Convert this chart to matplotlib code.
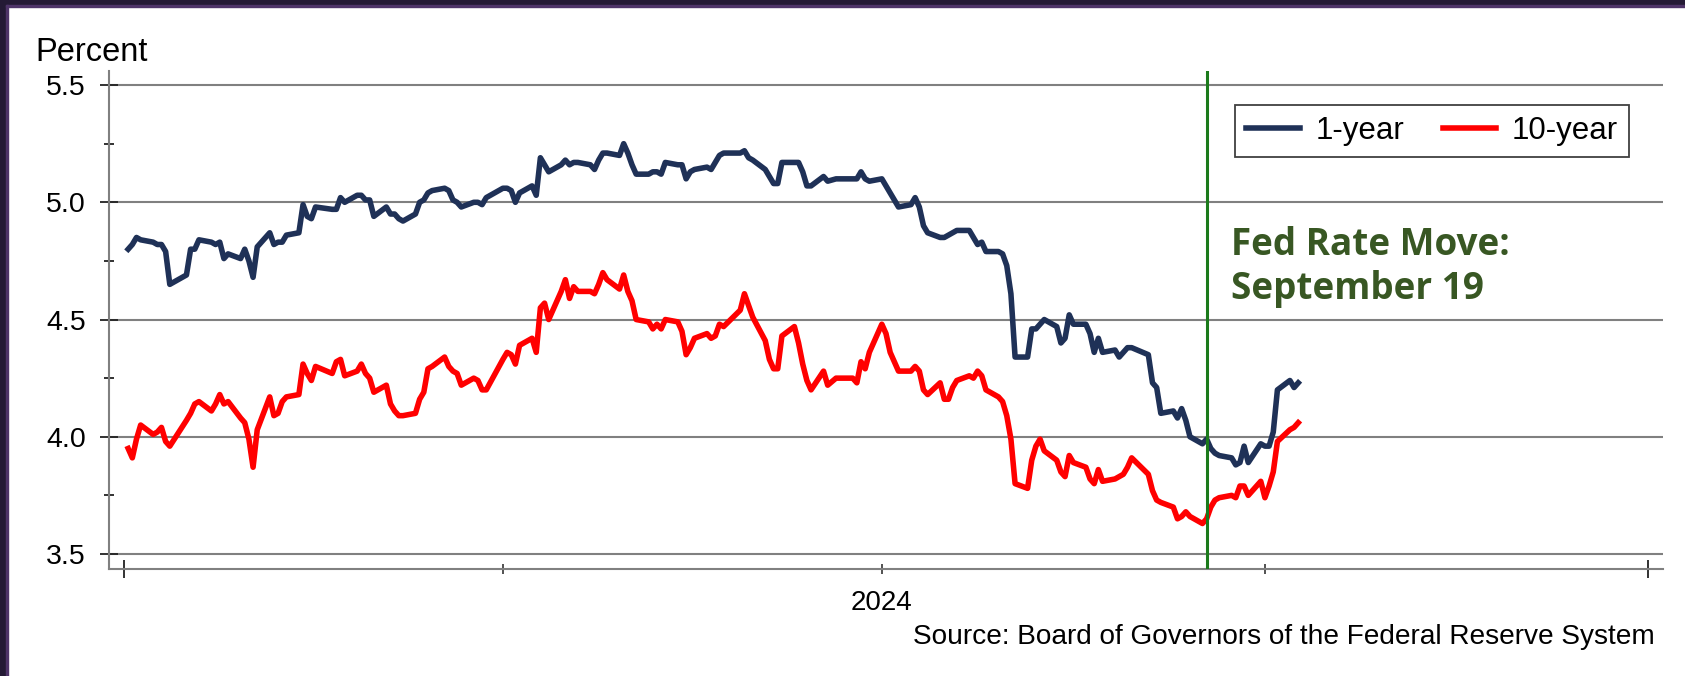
import pandas as pd
import matplotlib
matplotlib.use("Agg")
import matplotlib.pyplot as plt
from matplotlib.patches import Rectangle

plt.rcParams['font.family'] = ['Liberation Sans', 'DejaVu Sans']

# trading days, Jan 2 - Oct 9 2024
holidays = ["2024-01-15", "2024-02-19", "2024-03-29", "2024-05-27",
            "2024-06-19", "2024-07-04", "2024-09-02"]
dates = pd.bdate_range("2024-01-02", "2024-10-09", freq="C", holidays=holidays)

# 1-year treasury yield (percent), one line per month
one_year = [
    4.80, 4.82, 4.85, 4.84, 4.83, 4.82, 4.82, 4.79, 4.65, 4.69, 4.80, 4.80, 4.84, 4.83, 4.82, 4.83, 4.76, 4.78, 4.76, 4.80, 4.75,
    4.68, 4.81, 4.87, 4.82, 4.83, 4.83, 4.86, 4.87, 4.99, 4.94, 4.93, 4.98, 4.97, 4.97, 5.02, 5.00, 5.03, 5.03, 5.01, 5.01,
    4.94, 4.98, 4.95, 4.95, 4.93, 4.92, 4.95, 5.00, 5.01, 5.04, 5.05, 5.06, 5.05, 5.01, 5.00, 4.98, 5.00, 5.00, 4.99, 5.02,
    5.06, 5.06, 5.05, 5.00, 5.04, 5.07, 5.03, 5.19, 5.16, 5.13, 5.16, 5.18, 5.16, 5.17, 5.17, 5.16, 5.14, 5.18, 5.21, 5.21, 5.20, 5.25,
    5.21, 5.16, 5.12, 5.12, 5.13, 5.13, 5.12, 5.17, 5.16, 5.16, 5.10, 5.13, 5.14, 5.15, 5.14, 5.17, 5.20, 5.21, 5.21, 5.22, 5.19, 5.18,
    5.14, 5.11, 5.08, 5.08, 5.17, 5.17, 5.17, 5.13, 5.07, 5.07, 5.11, 5.09, 5.10, 5.10, 5.10, 5.10, 5.13, 5.10, 5.09,
    5.10, 5.07, 5.04, 4.98, 4.99, 5.02, 4.98, 4.90, 4.87, 4.85, 4.85, 4.86, 4.87, 4.88, 4.88, 4.85, 4.82, 4.83, 4.79, 4.79, 4.78, 4.73,
    4.61, 4.34, 4.34, 4.46, 4.46, 4.48, 4.50, 4.47, 4.40, 4.42, 4.52, 4.48, 4.48, 4.44, 4.36, 4.42, 4.36, 4.37, 4.34, 4.36, 4.38, 4.38,
    4.35, 4.23, 4.21, 4.10, 4.11, 4.08, 4.12, 4.07, 4.00, 3.97, 3.99, 3.95, 3.93, 3.92, 3.91, 3.88, 3.89, 3.96, 3.89, 3.97,
    3.96, 3.96, 4.02, 4.20, 4.24, 4.21, 4.23,
]

# 10-year treasury yield (percent)
ten_year = [
    3.95, 3.91, 3.99, 4.05, 4.01, 4.02, 4.04, 3.98, 3.96, 4.07, 4.10, 4.14, 4.15, 4.11, 4.14, 4.18, 4.14, 4.15, 4.08, 4.06, 3.99,
    3.87, 4.03, 4.17, 4.09, 4.10, 4.15, 4.17, 4.18, 4.31, 4.27, 4.24, 4.30, 4.27, 4.32, 4.33, 4.26, 4.28, 4.31, 4.27, 4.25,
    4.19, 4.22, 4.14, 4.11, 4.09, 4.09, 4.10, 4.16, 4.19, 4.29, 4.30, 4.34, 4.30, 4.28, 4.27, 4.22, 4.25, 4.24, 4.20, 4.20,
    4.33, 4.36, 4.35, 4.31, 4.39, 4.42, 4.36, 4.55, 4.57, 4.50, 4.62, 4.67, 4.59, 4.64, 4.62, 4.62, 4.61, 4.65, 4.70, 4.67, 4.63, 4.69,
    4.62, 4.58, 4.50, 4.49, 4.46, 4.48, 4.46, 4.50, 4.49, 4.45, 4.35, 4.38, 4.42, 4.44, 4.42, 4.43, 4.48, 4.47, 4.54, 4.61, 4.56, 4.51,
    4.41, 4.33, 4.29, 4.29, 4.43, 4.47, 4.40, 4.31, 4.24, 4.20, 4.28, 4.22, 4.25, 4.25, 4.25, 4.23, 4.32, 4.29, 4.36,
    4.48, 4.44, 4.36, 4.28, 4.28, 4.30, 4.28, 4.20, 4.18, 4.23, 4.16, 4.16, 4.21, 4.24, 4.26, 4.25, 4.28, 4.26, 4.20, 4.17, 4.15, 4.09,
    3.99, 3.80, 3.78, 3.90, 3.96, 3.99, 3.94, 3.90, 3.85, 3.83, 3.92, 3.89, 3.87, 3.82, 3.80, 3.86, 3.81, 3.82, 3.83, 3.84, 3.87, 3.91,
    3.84, 3.77, 3.73, 3.72, 3.70, 3.65, 3.66, 3.68, 3.66, 3.63, 3.65, 3.70, 3.73, 3.74, 3.75, 3.74, 3.79, 3.79, 3.75, 3.81,
    3.74, 3.79, 3.85, 3.98, 4.03, 4.04, 4.06,
]

fed_move = pd.Timestamp("2024-09-17")
y_ticks = [3.5, 4.0, 4.5, 5.0, 5.5]
y_minor = [3.75, 4.25, 4.75, 5.25]
year_ticks = [pd.Timestamp("2024-01-01"), pd.Timestamp("2025-01-01")]
quarter_ticks = [pd.Timestamp("2024-04-01"), pd.Timestamp("2024-07-01"), pd.Timestamp("2024-10-01")]
quarter_labels = ["", "2024", ""]

W, H = 1685, 676
fig = plt.figure(figsize=(W / 100, H / 100), dpi=100)

# dark frame strips on left / top
fig.patches.append(Rectangle((0, 0), 7 / W, 1, transform=fig.transFigure, color="#241a35", zorder=0))
fig.patches.append(Rectangle((0, 1 - 6 / H), 1, 6 / H, transform=fig.transFigure, color="#241a35", zorder=0))
fig.patches.append(Rectangle((6 / W, 0), 1.5 / W, 1 - 5 / H, transform=fig.transFigure, color="#4e3468", zorder=0))
fig.patches.append(Rectangle((6 / W, 1 - 6.5 / H), 1, 1.5 / H, transform=fig.transFigure, color="#4e3468", zorder=0))

ax = fig.add_axes([109 / W, 1 - 569 / H, (1663 - 109) / W, (569 - 71) / H])

ax.plot(dates, one_year, color="#1f3157", lw=4.0, label="1-year", zorder=2)
ax.plot(dates, ten_year, color="#ff0000", lw=4.0, label="10-year", zorder=2)
ax.axvline(fed_move, color="#1b7a1b", lw=2.2, zorder=3)

ax.set_xlim(year_ticks[0] - pd.Timedelta(days=3.6), year_ticks[1] + pd.Timedelta(days=3.6))
ax.set_ylim(3.436, 5.56)

ax.set_yticks(y_ticks, labels=[f"{v:.1f}" for v in y_ticks])
ax.set_yticks(y_minor, minor=True)
ax.set_xticks(year_ticks, labels=["", ""])
ax.set_xticks(quarter_ticks, labels=quarter_labels, minor=True)

ax.tick_params(axis="y", which="major", direction="inout", length=13, width=1.3,
               color="#222222", pad=10, labelsize=20.5)
ax.tick_params(axis="y", which="minor", direction="inout", length=7, width=1.3, color="#222222")
ax.tick_params(axis="x", which="major", direction="inout", length=13, width=1.3, color="#222222")
ax.tick_params(axis="x", which="minor", direction="inout", length=6.5, width=1.1,
               color="#222222", pad=11.8, labelsize=20)

ax.grid(axis="y", which="major", color="#808080", lw=1.5)
ax.set_axisbelow(True)
for side in ["top", "right"]:
    ax.spines[side].set_visible(False)
for side in ["left", "bottom"]:
    ax.spines[side].set_color("#808080")
    ax.spines[side].set_linewidth(1.5)

leg = ax.legend(loc="upper right", bbox_to_anchor=(0.978, 0.9317), fontsize=22.5, ncol=2,
                fancybox=False, edgecolor="#404040", framealpha=1, handlelength=1.7,
                handletextpad=0.5, columnspacing=1.25, borderpad=0.35, borderaxespad=0)
leg.get_frame().set_linewidth(1.3)

fig.text(35 / W, 1 - 61 / H, "Percent", fontsize=23.5, ha="left", va="baseline")
fig.text(1655 / W, 1 - 644 / H, "Source: Board of Governors of the Federal Reserve System",
         fontsize=20.2, ha="right", va="baseline")
# va='baseline' on multi-line text anchors the last line
fig.text(1231 / W, 1 - 299 / H, "Fed Rate Move:\nSeptember 19", fontsize=26.6,
         fontweight="bold", family=["Open Sans", "DejaVu Sans"], color="#385723",
         ha="left", va="baseline", linespacing=1.19)

fig.savefig("out.png", dpi=100)
